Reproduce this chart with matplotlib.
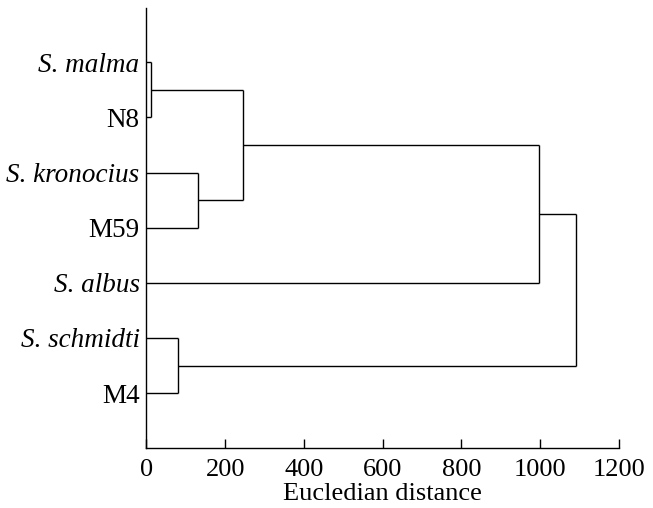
import matplotlib
matplotlib.use("Agg")
import matplotlib.pyplot as plt

# Leaves from top to bottom
leaves = ["S. malma", "N8", "S. kronocius", "M59", "S. albus", "S. schmidti", "M4"]
italic_leaves = ["S. malma", "S. kronocius", "S. albus", "S. schmidti"]
# Merge steps: (left cluster, right cluster, distance)
merge_left = ["S. malma", "S. kronocius", "S. schmidti", "c0", "c3", "c4"]
merge_right = ["N8", "M59", "M4", "c1", "S. albus", "c2"]
merge_height = [11, 132, 79, 246, 998, 1091]
xticks = [0, 200, 400, 600, 800, 1000, 1200]

plt.rcParams['font.family'] = ['Liberation Serif', 'DejaVu Serif']
fig = plt.figure(figsize=(6.53, 5.08), dpi=100)
ax = fig.add_axes([0.2243, 0.1175, 0.9475 - 0.2243, 0.984 - 0.1175])

n = len(leaves)
pos = {name: (0.0, float(n - i)) for i, name in enumerate(leaves)}  # (x, y)
lw = 1.0
for k, (a, b, h) in enumerate(zip(merge_left, merge_right, merge_height)):
    xa, ya = pos[a]
    xb, yb = pos[b]
    ax.plot([xa, h], [ya, ya], color='black', lw=lw, solid_capstyle='butt')
    ax.plot([xb, h], [yb, yb], color='black', lw=lw, solid_capstyle='butt')
    ax.plot([h, h], [ya, yb], color='black', lw=lw, solid_capstyle='butt')
    pos["c%d" % k] = (float(h), (ya + yb) / 2)

ax.set_xlim(0, 1200)
ax.set_ylim(0, n + 0.98)
ax.set_xticks(xticks)
ax.set_xticklabels([str(t) for t in xticks])
ax.set_yticks([n - i for i in range(n)])
ax.set_yticklabels(leaves)
for lab in ax.get_yticklabels():
    if lab.get_text() in italic_leaves:
        lab.set_fontstyle('italic')
ax.tick_params(axis='y', length=0, pad=5, labelsize=19.5)
ax.tick_params(axis='x', direction='in', length=6.5, width=1, labelsize=19, pad=8)
ax.spines['top'].set_visible(False)
ax.spines['right'].set_visible(False)
ax.spines['left'].set_linewidth(1)
ax.spines['bottom'].set_linewidth(1)
ax.set_xlabel("Eucledian distance", fontsize=19, labelpad=1)

fig.savefig("out.png", dpi=100)
